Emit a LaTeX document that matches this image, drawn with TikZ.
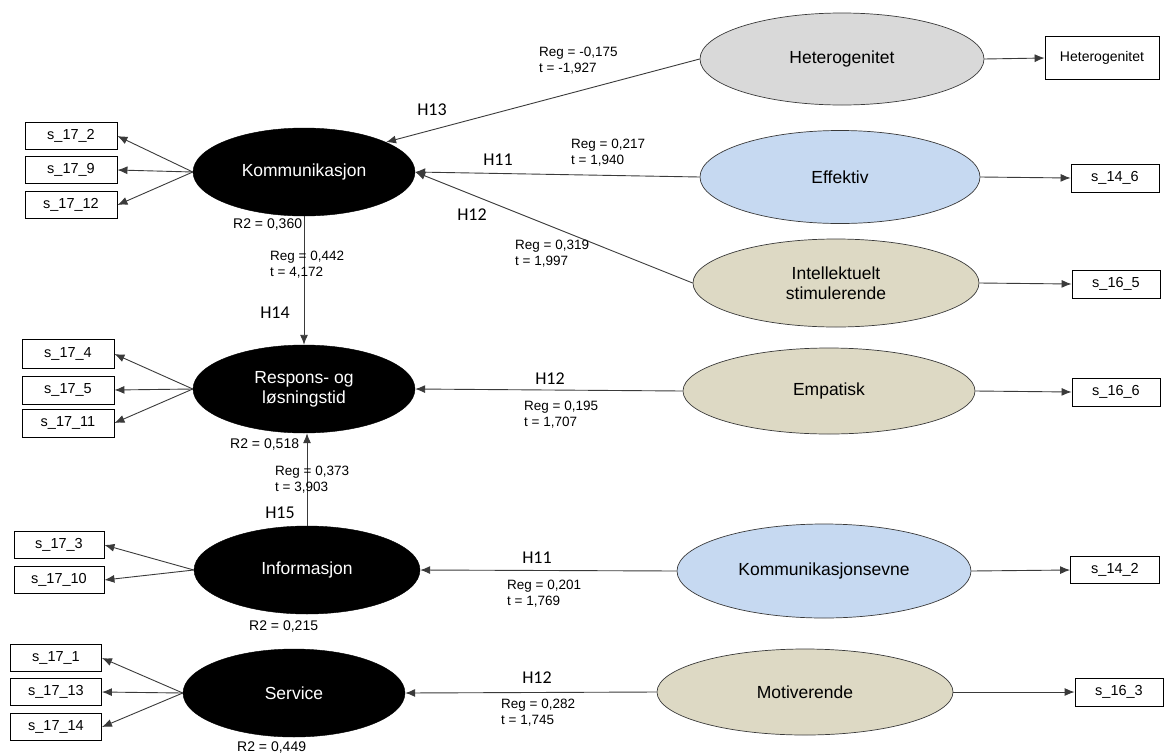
\documentclass[tikz,border=0pt]{standalone}
\usepackage{fontspec}
\setmainfont{Liberation Sans}
\newfontfamily\hfont{Carlito}
\usetikzlibrary{shapes.geometric,arrows.meta}
\definecolor{greyfill}{HTML}{D9D9D9}
\definecolor{bluefill}{HTML}{C6D9F1}
\definecolor{tanfill}{HTML}{DDD9C4}
\definecolor{edge}{HTML}{3A3A3A}
\begin{document}
\begin{tikzpicture}[x=1pt,y=-1pt,
  latent/.style={ellipse,fill=black,draw=black,text=white,inner sep=0pt,
    align=center,font=\fontsize{17.5}{20}\selectfont},
  exo/.style={ellipse,draw=edge,line width=0.7pt,inner sep=0pt,
    align=center,font=\fontsize{17.5}{20}\selectfont},
  ind/.style={draw=black,line width=0.9pt,fill=white,inner sep=0pt,
    minimum width=91pt,minimum height=27pt,font=\fontsize{14.5}{16}\selectfont},
  path/.style={draw=edge,line width=0.9pt,-{Latex[length=10pt,width=8pt]}},
  reg/.style={anchor=west,align=left,inner sep=0pt,font=\fontsize{13.5}{16}\selectfont},
  hyp/.style={inner sep=0pt,font=\hfont\fontsize{18}{20}\selectfont},
  rsq/.style={anchor=west,inner sep=0pt,font=\fontsize{14}{16}\selectfont}]
\useasboundingbox (0,0) rectangle (1164,755);

% endogenous constructs
\node[latent,minimum width=222pt,minimum height=88pt] (kom) at (304,172) {Kommunikasjon};
\node[latent,minimum width=222pt,minimum height=88pt] (res) at (304,389) {Respons- og\\løsningstid};
\node[latent,minimum width=226pt,minimum height=88pt] (inf) at (307,570) {Informasjon};
\node[latent,minimum width=222pt,minimum height=88pt] (ser) at (294,693) {Service};

% exogenous constructs
\node[exo,fill=greyfill,minimum width=284pt,minimum height=92pt] (het) at (842,59) {Heterogenitet};
\node[exo,fill=bluefill,minimum width=280pt,minimum height=93pt] (eff) at (840,177) {Effektiv};
\node[exo,fill=tanfill,minimum width=286pt,minimum height=88pt] (int) at (836,283) {Intellektuelt\\stimulerende};
\node[exo,fill=tanfill,minimum width=292pt,minimum height=86pt] (emp) at (829,391) {Empatisk};
\node[exo,fill=bluefill,minimum width=294pt,minimum height=94pt] (kev) at (824,571) {Kommunikasjonsevne};
\node[exo,fill=tanfill,minimum width=296pt,minimum height=86pt] (mot) at (805,692) {Motiverende};

% indicators of the exogenous constructs
\node[ind,minimum width=114pt,minimum height=43pt,font=\fontsize{14}{16}\selectfont] (ihet) at (1102,58) {Heterogenitet};
\node[ind,minimum width=88pt,minimum height=28pt] (i146) at (1115,178) {s\_14\_6};
\node[ind,minimum width=88pt,minimum height=28pt] (i165) at (1116,284) {s\_16\_5};
\node[ind,minimum width=88pt,minimum height=28pt] (i166) at (1116,392) {s\_16\_6};
\node[ind,minimum width=89pt] (i142) at (1115,570) {s\_14\_2};
\node[ind,minimum width=88pt,minimum height=28pt] (i163) at (1119,692) {s\_16\_3};

% indicators of the endogenous constructs
\node[ind,minimum width=92pt] (k2)  at (71,136) {s\_17\_2};
\node[ind,minimum width=92pt] (k9)  at (71,170) {s\_17\_9};
\node[ind,minimum width=92pt] (k12) at (71,205) {s\_17\_12};
\node[ind,minimum width=92pt,minimum height=29pt] (r4)  at (68,354) {s\_17\_4};
\node[ind,minimum width=92pt,minimum height=28pt] (r5)  at (68,390) {s\_17\_5};
\node[ind,minimum width=92pt,minimum height=28pt] (r11) at (68,423) {s\_17\_11};
\node[ind,minimum width=90pt] (n3)  at (59,545) {s\_17\_3};
\node[ind,minimum width=90pt] (n10) at (59,580) {s\_17\_10};
\node[ind] (s1)  at (56,658) {s\_17\_1};
\node[ind] (s13) at (56,692) {s\_17\_13};
\node[ind] (s14) at (56,727) {s\_17\_14};

% reflective loadings
\foreach \a/\b in {kom/k2,kom/k9,kom/k12,res/r4,res/r5,res/r11,inf/n3,inf/n10,ser/s1,ser/s13,ser/s14}
  \draw[path] (\a.west) -- (\b.east);
\foreach \a/\b in {het/ihet,eff/i146,int/i165,emp/i166,kev/i142,mot/i163}
  \draw[path] (\a.east) -- (\b.west);

% structural paths
\draw[path] (het.west) -- (kom.20);
\draw[path] (eff.west) -- (kom.east);
\draw[path] (int.west) -- (kom.east);
\draw[path] (emp.west) -- (res.east);
\draw[path] (kev.west) -- (inf.east);
\draw[path] (mot.west) -- (ser.east);
\draw[path] (kom.south) -- (res.north);
\draw[path] (inf.north) -- (inf.north |- res.south);

% path coefficients
\node[reg] at (539,61)  {Reg = -0,175\\t = -1,927};
\node[reg] at (571,153) {Reg = 0,217\\t = 1,940};
\node[reg] at (515,254) {Reg = 0,319\\t = 1,997};
\node[reg] at (524,415) {Reg = 0,195\\t = 1,707};
\node[reg] at (507,594) {Reg = 0,201\\t = 1,769};
\node[reg] at (501,713) {Reg = 0,282\\t = 1,745};
\node[reg] at (270,265) {Reg = 0,442\\t = 4,172};
\node[reg] at (275,480) {Reg = 0,373\\t = 3,903};

% hypotheses
\node[hyp] at (432,110) {H13};
\node[hyp] at (498,160) {H11};
\node[hyp] at (472,215) {H12};
\node[hyp] at (550,379) {H12};
\node[hyp] at (537,558) {H11};
\node[hyp] at (537,678) {H12};
\node[hyp] at (275,313) {H14};
\node[hyp] at (280,513) {H15};

% explained variance
\node[rsq] at (233,225) {R2 = 0,360};
\node[rsq] at (230,445) {R2 = 0,518};
\node[rsq] at (249,626) {R2 = 0,215};
\node[rsq] at (237,747) {R2 = 0,449};
\end{tikzpicture}
\end{document}
